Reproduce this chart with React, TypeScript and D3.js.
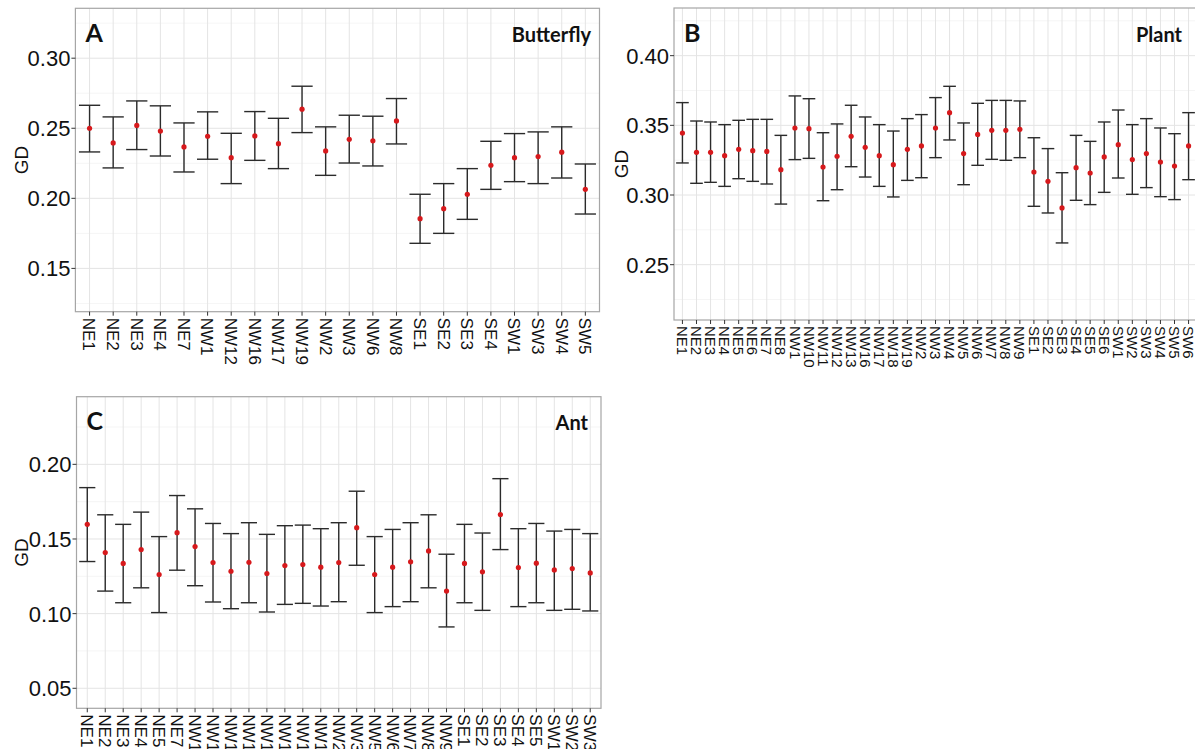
import React from 'react';
import * as d3 from 'd3';

// Panel A - Butterfly
const butterflySites = ['NE1', 'NE2', 'NE3', 'NE4', 'NE7', 'NW1', 'NW12', 'NW16', 'NW17', 'NW19', 'NW2', 'NW3', 'NW6', 'NW8', 'SE1', 'SE2', 'SE3', 'SE4', 'SW1', 'SW3', 'SW4', 'SW5'];
const butterflyMean = [0.250, 0.2395, 0.252, 0.248, 0.2367, 0.2443, 0.229, 0.2445, 0.239, 0.2636, 0.2338, 0.2421, 0.241, 0.2552, 0.1855, 0.1926, 0.2029, 0.2236, 0.229, 0.2298, 0.2329, 0.2064];
const butterflyLow = [0.2331, 0.2217, 0.2348, 0.2302, 0.2188, 0.2279, 0.2105, 0.2271, 0.2212, 0.2469, 0.2164, 0.2252, 0.2231, 0.2388, 0.1679, 0.175, 0.185, 0.2064, 0.2119, 0.2105, 0.2145, 0.1888];
const butterflyHigh = [0.2664, 0.2581, 0.2695, 0.266, 0.2538, 0.2617, 0.2464, 0.2619, 0.2571, 0.28, 0.251, 0.2593, 0.2586, 0.2712, 0.2029, 0.2105, 0.2212, 0.2407, 0.2462, 0.2474, 0.251, 0.2245];
const butterflyTicks = [0.15, 0.20, 0.25, 0.30];

// Panel B - Plant
const plantSites = ['NE1', 'NE2', 'NE3', 'NE4', 'NE5', 'NE6', 'NE7', 'NE8', 'NW1', 'NW10', 'NW11', 'NW12', 'NW13', 'NW16', 'NW17', 'NW18', 'NW19', 'NW2', 'NW3', 'NW4', 'NW5', 'NW6', 'NW7', 'NW8', 'NW9', 'SE1', 'SE2', 'SE3', 'SE4', 'SE5', 'SE6', 'SW1', 'SW2', 'SW3', 'SW4', 'SW5', 'SW6'];
const plantMean = [0.3445, 0.3306, 0.3306, 0.3282, 0.3328, 0.3318, 0.3313, 0.3182, 0.3481, 0.3476, 0.3201, 0.3278, 0.3421, 0.3342, 0.3282, 0.3218, 0.3328, 0.3352, 0.3481, 0.3591, 0.3297, 0.3435, 0.3464, 0.3464, 0.3471, 0.3165, 0.3098, 0.2907, 0.3196, 0.3158, 0.3273, 0.3361, 0.3254, 0.3297, 0.3237, 0.3208, 0.3352];
const plantLow = [0.323, 0.3084, 0.3091, 0.3062, 0.3117, 0.3098, 0.3079, 0.2935, 0.3254, 0.3263, 0.2959, 0.3038, 0.3203, 0.3129, 0.3062, 0.2986, 0.3105, 0.3124, 0.3268, 0.3395, 0.3074, 0.3213, 0.3256, 0.3249, 0.3268, 0.2919, 0.2871, 0.2656, 0.2962, 0.2931, 0.3019, 0.3122, 0.3005, 0.3053, 0.2988, 0.2967, 0.311];
const plantHigh = [0.3663, 0.3531, 0.3524, 0.3505, 0.3536, 0.3543, 0.3543, 0.3428, 0.3711, 0.3691, 0.3447, 0.351, 0.3644, 0.356, 0.3505, 0.3459, 0.3548, 0.3577, 0.3699, 0.378, 0.3517, 0.3658, 0.3679, 0.3679, 0.3675, 0.3411, 0.3333, 0.316, 0.3428, 0.3385, 0.3524, 0.361, 0.3505, 0.3548, 0.3481, 0.344, 0.3591];
const plantTicks = [0.25, 0.30, 0.35, 0.40];

// Panel C - Ant
const antSites = ['NE1', 'NE2', 'NE3', 'NE4', 'NE5', 'NE7', 'NW1', 'NW12', 'NW14', 'NW15', 'NW16', 'NW17', 'NW18', 'NW19', 'NW2', 'NW3', 'NW5', 'NW6', 'NW7', 'NW8', 'NW9', 'SE1', 'SE2', 'SE3', 'SE4', 'SE5', 'SW1', 'SW2', 'SW3'];
const antMean = [0.1598, 0.1409, 0.1336, 0.1429, 0.1262, 0.1542, 0.1449, 0.1342, 0.1284, 0.1344, 0.1269, 0.1322, 0.1329, 0.1311, 0.1342, 0.1576, 0.1262, 0.1311, 0.1347, 0.142, 0.1151, 0.1336, 0.128, 0.1664, 0.1309, 0.1338, 0.1293, 0.1302, 0.1273];
const antLow = [0.1349, 0.1151, 0.1073, 0.1173, 0.1007, 0.1291, 0.1187, 0.1078, 0.1033, 0.1073, 0.1011, 0.1062, 0.1069, 0.1051, 0.108, 0.1324, 0.1007, 0.1047, 0.108, 0.1173, 0.0911, 0.1073, 0.1022, 0.1429, 0.1047, 0.1073, 0.1022, 0.1029, 0.1018];
const antHigh = [0.1844, 0.1662, 0.1598, 0.168, 0.1516, 0.1791, 0.1702, 0.1604, 0.1536, 0.1609, 0.1531, 0.1589, 0.1593, 0.1569, 0.1609, 0.182, 0.1516, 0.1564, 0.1609, 0.1662, 0.1398, 0.1598, 0.154, 0.1904, 0.1569, 0.1604, 0.1553, 0.1564, 0.1536];
const antTicks = [0.05, 0.10, 0.15, 0.20];

const panels = [
  { letter: 'A', name: 'Butterfly', sites: butterflySites, mean: butterflyMean, low: butterflyLow, high: butterflyHigh, ticks: butterflyTicks,
    x0: 75.4, x1: 599.5, y0: 8.3, y1: 311.7, domain: [0.1191, 0.3356], labelSize: 17, nameX: 591, titleX: 21 },
  { letter: 'B', name: 'Plant', sites: plantSites, mean: plantMean, low: plantLow, high: plantHigh, ticks: plantTicks,
    x0: 674, x1: 1197, y0: 8, y1: 320, domain: [0.2103, 0.4342], labelSize: 15, nameX: 1182, titleX: 621 },
  { letter: 'C', name: 'Ant', sites: antSites, mean: antMean, low: antLow, high: antHigh, ticks: antTicks,
    x0: 76.5, x1: 601, y0: 396.7, y1: 708.3, domain: [0.0366, 0.2453], labelSize: 17, nameX: 588, titleX: 21 },
];

const font = "Liberation Sans";

const Panel = ({ p }) => {
  const x = d3.scalePoint().domain(p.sites).range([p.x0, p.x1]).padding(0.6);
  const y = d3.scaleLinear().domain(p.domain).range([p.y1, p.y0]);
  const step = x.step();
  const cap = step * 0.9 / 2;
  const minor = p.ticks.map(t => t - 0.025).concat([p.ticks[p.ticks.length - 1] + 0.025])
    .filter(v => v > p.domain[0] && v < p.domain[1]);

  return (
    <g>
      <rect x={p.x0} y={p.y0} width={p.x1 - p.x0} height={p.y1 - p.y0} fill="#fff" />
      {minor.map(v => (
        <line key={'m' + v} x1={p.x0} x2={p.x1} y1={y(v)} y2={y(v)} stroke="#f2f2f2" strokeWidth={0.8} />
      ))}
      {p.ticks.map(v => (
        <line key={'g' + v} x1={p.x0} x2={p.x1} y1={y(v)} y2={y(v)} stroke="#e4e4e4" strokeWidth={1} />
      ))}
      {p.sites.map(s => (
        <line key={'v' + s} x1={x(s)} x2={x(s)} y1={p.y0} y2={p.y1} stroke="#e4e4e4" strokeWidth={1} />
      ))}
      <rect x={p.x0} y={p.y0} width={p.x1 - p.x0} height={p.y1 - p.y0} fill="none" stroke="#a6a6a6" strokeWidth={1.2} />

      {/* y axis */}
      {p.ticks.map(v => (
        <g key={'t' + v}>
          <line x1={p.x0 - 4} x2={p.x0} y1={y(v)} y2={y(v)} stroke="#333" strokeWidth={1} />
          <text x={p.x0 - 5} y={y(v)} dy="0.36em" textAnchor="end" fontSize={22} fontFamily={font} fill="#111">
            {d3.format('.2f')(v)}
          </text>
        </g>
      ))}
      <text transform={`translate(${p.titleX},${(p.y0 + p.y1) / 2}) rotate(-90)`} textAnchor="middle" dy="0.36em"
        fontSize={19} fontFamily={font} fill="#111">GD</text>

      {/* x axis */}
      {p.sites.map(s => (
        <g key={'x' + s}>
          <line x1={x(s)} x2={x(s)} y1={p.y1} y2={p.y1 + 4} stroke="#333" strokeWidth={1} />
          <text transform={`translate(${x(s)},${p.y1 + 6}) rotate(90)`} dy="0.36em" textAnchor="start"
            fontSize={p.labelSize} fontFamily={font} fill="#111">{s}</text>
        </g>
      ))}

      {/* error bars */}
      {p.sites.map((s, i) => (
        <g key={'e' + s} stroke="#2b2b2b" strokeWidth={1.4}>
          <line x1={x(s)} x2={x(s)} y1={y(p.low[i])} y2={y(p.high[i])} />
          <line x1={x(s) - cap} x2={x(s) + cap} y1={y(p.low[i])} y2={y(p.low[i])} />
          <line x1={x(s) - cap} x2={x(s) + cap} y1={y(p.high[i])} y2={y(p.high[i])} />
        </g>
      ))}
      {p.sites.map((s, i) => (
        <circle key={'c' + s} cx={x(s)} cy={y(p.mean[i])} r={2.6} fill="#d7191c" />
      ))}

      <text x={p.x0 + 10} y={p.y0 + 33.5} fontSize={25} fontWeight="bold" fontFamily="Lato" fill="#111">{p.letter}</text>
      <text x={p.nameX} y={p.y0 + 33.5} textAnchor="end" fontSize={20} fontWeight="bold" fontFamily="Lato" fill="#111">{p.name}</text>
    </g>
  );
};

export default function App() {
  return (
    <svg width={1195} height={749} style={{ position: 'absolute', left: 0, top: 0, background: '#fff' }}>
      <rect width={1195} height={749} fill="#fff" />
      {panels.map(p => <Panel key={p.letter} p={p} />)}
    </svg>
  );
}
